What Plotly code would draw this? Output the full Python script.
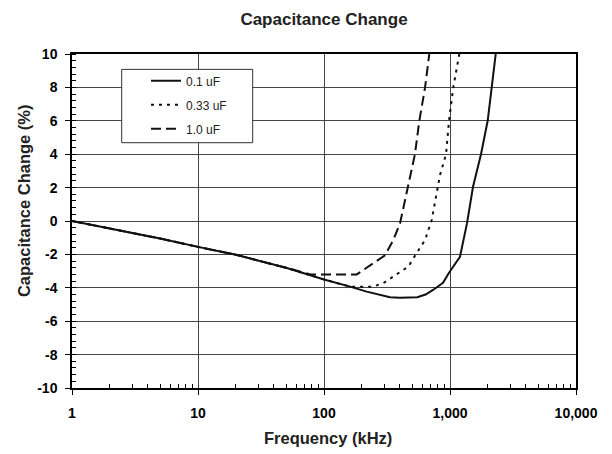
import plotly.graph_objects as go

# Frequency (kHz) and capacitance change (%)
f_01 = [1, 2, 5, 10, 20, 50, 100, 161, 218, 334, 401, 550, 640, 733, 880, 982, 1100, 1200, 1365, 1523, 1762, 1991, 2143, 2306]
c_01 = [0, -0.45, -1.05, -1.55, -2.02, -2.8, -3.5, -3.93, -4.23, -4.57, -4.6, -4.57, -4.4, -4.13, -3.7, -3.1, -2.58, -2.14, -0.13, 2.05, 4.0, 6.0, 8.0, 10.0]

f_033 = [1, 2, 5, 10, 20, 50, 100, 161, 245, 296, 353, 424, 467, 544, 634, 716, 774, 833, 930, 982, 1062, 1185]
c_033 = [0, -0.45, -1.05, -1.55, -2.02, -2.8, -3.5, -3.93, -3.93, -3.72, -3.33, -2.93, -2.73, -1.92, -1.14, 0.06, 1.46, 2.75, 4.0, 6.0, 8.0, 10.0]

f_10 = [1, 2, 5, 10, 20, 50, 78, 100, 182, 305, 355, 401, 464, 527, 571, 634, 685]
c_10 = [0, -0.45, -1.05, -1.55, -2.02, -2.8, -3.2, -3.2, -3.2, -2.05, -1.14, -0.15, 2.0, 4.0, 6.0, 8.0, 10.0]

x_tickvals = [1, 10, 100, 1000, 10000]
x_ticktext = ["1", "10", "100", "1,000", "10,000"]
y_tickvals = [-10, -8, -6, -4, -2, 0, 2, 4, 6, 8, 10]
y_ticktext = ["-10", "-8", "-6", "-4", "-2", "0", "2", "4", "6", "8", "10"]
x_minor = [m * d for d in [1, 10, 100, 1000] for m in range(2, 10)]

font_family = "Liberation Sans, Arial, sans-serif"
line_col = "#111111"
text_col = "#222222"

fig = go.Figure()
fig.add_trace(go.Scatter(x=f_01, y=c_01, mode="lines", name="0.1 uF", legendgroup="a",
                         line=dict(color=line_col, width=2, dash="solid")))
fig.add_trace(go.Scatter(x=f_033, y=c_033, mode="lines", name="0.33 uF", legendgroup="b",
                         line=dict(color=line_col, width=2, dash="3px,5px")))
fig.add_trace(go.Scatter(x=f_10, y=c_10, mode="lines", name="1.0 uF", legendgroup="c",
                         line=dict(color=line_col, width=2, dash="10px,5px")))

fig.update_layout(
    width=604, height=446,
    margin=dict(l=64, r=36, t=46, b=66, autoexpand=False),
    paper_bgcolor="white", plot_bgcolor="white",
    font=dict(family=font_family, color="black"),
    title=dict(text="<b>Capacitance Change</b>", x=0.5, xref="paper", xanchor="center",
               y=0.9753, yanchor="middle", font=dict(size=17, color=text_col)),
    showlegend=True,
    legend=dict(x=0.1468, y=0.963, xanchor="left", yanchor="top",
                bgcolor="rgba(0,0,0,0)", borderwidth=0,
                font=dict(size=12, color=text_col), tracegroupgap=5, itemwidth=30),
    shapes=[dict(type="rect", xref="paper", yref="paper", x0=0.0986, x1=0.3585, y0=0.7344, y1=0.954,
                 line=dict(color="#333333", width=1), fillcolor="white", layer="above")],
    annotations=[
        dict(text="<b>Frequency (kHz)</b>", xref="paper", yref="paper", x=0.508, y=-0.1488,
             xanchor="center", yanchor="middle", showarrow=False, font=dict(size=16.5, color=text_col)),
        dict(text="<b>Capacitance Change (%)</b>", xref="paper", yref="paper", x=-0.095, y=0.56,
             xanchor="center", yanchor="middle", textangle=-90, showarrow=False,
             font=dict(size=16.5, color=text_col)),
    ],
)

fig.update_xaxes(
    type="log", range=[0, 4], automargin=False,
    tickmode="array", tickvals=x_tickvals, ticktext=x_ticktext,
    tickfont=dict(size=14, color="black", family=font_family, weight="bold"),
    ticks="outside", ticklen=5, tickcolor="black", ticklabelstandoff=6,
    showgrid=True, gridcolor="#444444", gridwidth=1,
    showline=True, linecolor="black", linewidth=1.5, mirror=True,
    minor=dict(tickmode="array", tickvals=x_minor, ticks="inside", ticklen=4, tickcolor="black", showgrid=False),
    zeroline=False,
)
fig.update_yaxes(
    range=[-10, 10], automargin=False,
    tickmode="array", tickvals=y_tickvals, ticktext=y_ticktext,
    tickfont=dict(size=14, color="black", family=font_family, weight="bold"),
    ticks="outside", ticklen=5, tickcolor="black", ticklabelstandoff=5,
    showgrid=True, gridcolor="#444444", gridwidth=1,
    showline=True, linecolor="black", linewidth=1.5, mirror=True,
    minor=dict(dtick=0.4, tick0=0, ticks="inside", ticklen=4, tickcolor="black", showgrid=False),
    zeroline=False,
)

fig.write_html("out.html")
